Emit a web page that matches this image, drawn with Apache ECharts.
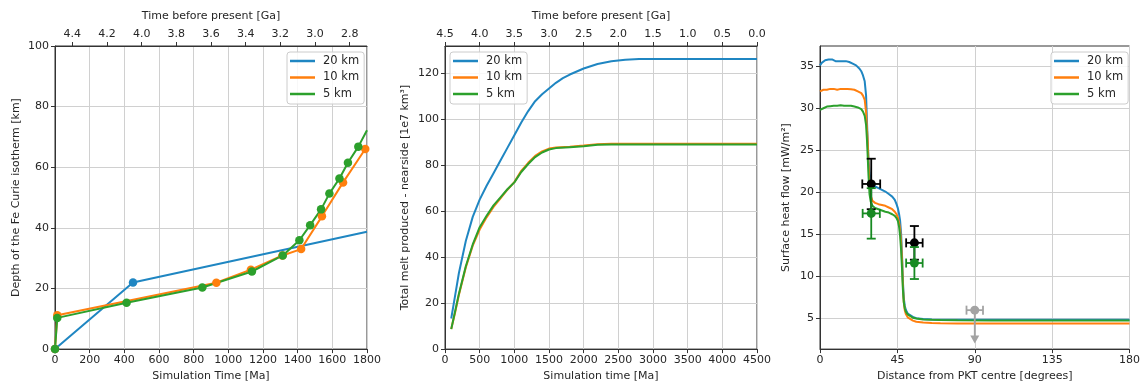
<!DOCTYPE html>
<html>
<head>
<meta charset="utf-8">
<script src="https://cdn.jsdelivr.net/npm/echarts@6/dist/echarts.min.js"></script>
<style>
html,body{margin:0;padding:0;background:#fff;}
#c{width:1143px;height:387px;}
</style>
</head>
<body>
<div id="c"></div>
<script>
// ---------- Panel 1: Fe Curie isotherm depth ----------
const curie20T = [0, 450, 1800];
const curie20D = [0, 22, 38.7];
const curie10T = [0, 13, 931, 1130, 1312, 1420, 1540, 1662, 1790];
const curie10D = [0, 11.2, 21.9, 26.2, 30.9, 33.0, 43.8, 55.0, 66.0];
const curie5T = [0, 13, 413, 850, 1136, 1314, 1410, 1472, 1535, 1583, 1641, 1690, 1750, 1800];
const curie5D = [0, 10.3, 15.3, 20.3, 25.6, 30.9, 35.9, 40.9, 46.1, 51.3, 56.3, 61.5, 66.8, 72.2];
const gaTicks1 = [4.4, 4.2, 4.0, 3.8, 3.6, 3.4, 3.2, 3.0, 2.8];

// ---------- Panel 2: total melt produced ----------
const melt20T = [90, 150, 200, 300, 400, 500, 600, 700, 800, 900, 1000, 1100, 1200, 1300, 1400, 1500, 1600, 1700, 1800, 2000, 2200, 2400, 2600, 2800, 3000, 4500];
const melt20V = [13.3, 24, 33, 47, 57.5, 65, 71, 76.5, 82, 87.5, 93, 98.5, 103.5, 107.8, 110.8, 113.3, 115.8, 117.8, 119.4, 122, 124, 125.2, 125.8, 126.1, 126.2, 126.2];
const melt10T = [90, 150, 200, 300, 400, 500, 600, 700, 800, 900, 1000, 1100, 1200, 1300, 1400, 1500, 1600, 1800, 2000, 2200, 2400, 4500];
const melt10V = [8.7, 16.5, 23.5, 35.5, 45, 52, 57.3, 61.8, 65.5, 69.3, 72.6, 77.5, 81, 84, 86, 87.2, 87.7, 88, 88.5, 89.1, 89.3, 89.3];
const melt5T = [90, 150, 200, 300, 400, 500, 600, 700, 800, 900, 1000, 1100, 1200, 1300, 1400, 1500, 1600, 1800, 2000, 2200, 2400, 4500];
const melt5V = [8.7, 17, 24, 36, 45.5, 53, 58, 62.5, 66, 69.5, 72.5, 77, 80.5, 83.5, 85.5, 86.8, 87.4, 87.8, 88.2, 88.9, 89, 89];

// ---------- Panel 3: surface heat flow ----------
const hfX = [0,1,2,3,4,5,6,7,8,9,10,11,12,13,14,15,16,17,18,19,20,21,22,23,24,25,26,26.8,27.3,27.7,28.2,28.8,29.5,30.5,32,34,36,38,40,42,43.5,44.5,45.3,46,46.6,47.2,47.8,48.2,48.7,49.3,50,51,52,54,56,60,65,70,80,100,120,140,160,180];
const hf20 = [35.1,35.4,35.6,35.7,35.6,35.8,35.7,35.8,35.7,35.6,35.7,35.6,35.5,35.6,35.5,35.6,35.5,35.5,35.4,35.3,35.2,35.1,35.0,34.7,34.4,33.9,33.2,31.5,28.5,26.3,24.0,22.3,21.4,21.0,20.7,20.5,20.3,20.1,19.8,19.5,19.1,18.6,18.1,17.4,16.6,15.0,12.0,9.5,7.5,6.5,6.0,5.6,5.4,5.2,5.05,4.95,4.9,4.87,4.85,4.85,4.85,4.85,4.85,4.85];
const hf10 = [32.0,32.1,32.2,32.3,32.2,32.25,32.3,32.2,32.3,32.25,32.2,32.3,32.3,32.25,32.3,32.35,32.3,32.3,32.25,32.2,32.2,32.1,32.0,31.9,31.8,31.5,31.0,29.5,27.5,26.3,23.5,21.0,19.6,19.0,18.75,18.6,18.5,18.4,18.2,18.0,17.7,17.4,17.0,16.4,15.6,14.0,11.5,9.0,7.0,6.0,5.5,5.15,4.95,4.75,4.62,4.52,4.47,4.44,4.42,4.41,4.41,4.41,4.41,4.41];
const hf5 = [29.8,29.9,30.0,30.1,30.2,30.2,30.25,30.3,30.3,30.3,30.3,30.3,30.35,30.3,30.3,30.35,30.3,30.3,30.3,30.25,30.2,30.2,30.1,30.0,29.9,29.6,29.1,28.0,26.3,24.5,22.0,19.8,18.9,18.4,18.15,18.0,17.85,17.7,17.6,17.4,17.2,16.95,16.6,15.9,14.8,13.0,10.5,8.5,7.0,6.2,5.8,5.5,5.3,5.1,5.0,4.9,4.85,4.82,4.8,4.78,4.77,4.77,4.77,4.77];
const obsX = [29.8, 54.9];
const obsY = [21.0, 14.0];
const obsXErr = [5.2, 4.8];
const obsYErr = [3.0, 2.0];
const modX = [29.8, 54.9];
const modY = [17.5, 11.6];
const modXErr = [5.0, 4.8];
const modYErr = [3.0, 1.9];
const limX = [90];
const limY = [6.0];
const limXErr = [4.8];
const limYErr = [3.5];
const hfTicks = [5, 10, 15, 20, 25, 30, 35];
const meltTicks = [0, 20, 40, 60, 80, 100, 120];

const seriesNames = ['20 km', '10 km', '5 km'];
const C = { b: '#1f86c2', o: '#ff7f0e', g: '#2ca02c' };

const zip = (a, b) => a.map((v, i) => [v, b[i]]);
const FONT = 'DejaVu Sans';
const TXT = '#262626';
const plain = v => String(v);

function bottomAxis(grid, min, max, interval, name) {
  return {
    type: 'value', gridIndex: grid, position: 'bottom', min: min, max: max, interval: interval,
    name: name, nameLocation: 'middle', nameGap: 21,
    nameTextStyle: { fontFamily: FONT, fontSize: 11, color: TXT },
    axisLine: { show: true, onZero: false, lineStyle: { color: '#333', width: 1 } },
    axisTick: { show: true, length: 4, lineStyle: { color: '#333' } },
    axisLabel: { fontFamily: FONT, fontSize: 11, color: TXT, margin: 6, formatter: plain },
    splitLine: { show: true, lineStyle: { color: '#d0d0d0', width: 1 } }
  };
}
function topAxis(grid, min, max, opts, name) {
  return Object.assign({
    type: 'value', gridIndex: grid, position: 'top', min: min, max: max, inverse: true,
    name: name, nameLocation: 'middle', nameGap: 24,
    nameTextStyle: { fontFamily: FONT, fontSize: 11, color: TXT },
    axisLine: { show: true, onZero: false, lineStyle: { color: '#333', width: 1 } },
    splitLine: { show: false }
  }, opts);
}
function leftAxis(grid, min, max, ticks, name, gap) {
  return {
    type: 'value', gridIndex: grid, min: min, max: max,
    name: name, nameLocation: 'middle', nameGap: gap,
    nameTextStyle: { fontFamily: FONT, fontSize: 11, color: TXT },
    axisLine: { show: true, onZero: false, lineStyle: { color: '#333', width: 1 } },
    axisTick: { show: true, length: 4, lineStyle: { color: '#333' }, customValues: ticks },
    axisLabel: { fontFamily: FONT, fontSize: 11, color: TXT, margin: 6, customValues: ticks, formatter: plain },
    splitLine: { show: true, lineStyle: { color: '#d0d0d0', width: 1 } }
  };
}
function legendAt(left, top) {
  return {
    data: seriesNames, orient: 'vertical', left: left, top: top,
    icon: 'rect', itemWidth: 25, itemHeight: 2.5, itemGap: 2.5,
    padding: [2, 5, 3, 3],
    borderColor: '#cccccc', borderWidth: 1, borderRadius: 3,
    backgroundColor: 'rgba(255,255,255,0.85)',
    textStyle: { fontFamily: FONT, fontSize: 11.5, color: TXT, lineHeight: 14, padding: [0, 0, 0, 3] },
    selectedMode: false
  };
}

function errRender(color, radius) {
  return function (params, api) {
    const x = api.value(0), y = api.value(1), xe = api.value(2), ye = api.value(3);
    const c = api.coord([x, y]);
    const l = api.coord([x - xe, y]), r = api.coord([x + xe, y]);
    const t = api.coord([x, y + ye]), b = api.coord([x, y - ye]);
    const cap = 4.5;
    const st = { stroke: color, lineWidth: 1.8 };
    const ln = (x1, y1, x2, y2) => ({ type: 'line', shape: { x1: x1, y1: y1, x2: x2, y2: y2 }, style: st });
    return {
      type: 'group',
      children: [
        ln(l[0], c[1], r[0], r[1]),
        ln(t[0], t[1], b[0], b[1]),
        ln(l[0], c[1] - cap, l[0], c[1] + cap),
        ln(r[0], c[1] - cap, r[0], c[1] + cap),
        ln(t[0] - cap, t[1], t[0] + cap, t[1]),
        ln(b[0] - cap, b[1], b[0] + cap, b[1]),
        { type: 'circle', shape: { cx: c[0], cy: c[1], r: radius }, style: { fill: color } }
      ]
    };
  };
}
function limRender(color, radius) {
  return function (params, api) {
    const x = api.value(0), y = api.value(1), xe = api.value(2), ye = api.value(3);
    const c = api.coord([x, y]);
    const l = api.coord([x - xe, y]), r = api.coord([x + xe, y]);
    const b = api.coord([x, y - ye]);
    const cap = 4.5;
    const st = { stroke: color, lineWidth: 1.8 };
    const ln = (x1, y1, x2, y2) => ({ type: 'line', shape: { x1: x1, y1: y1, x2: x2, y2: y2 }, style: st });
    return {
      type: 'group',
      children: [
        ln(l[0], c[1], r[0], r[1]),
        ln(c[0], c[1], b[0], b[1]),
        ln(l[0], c[1] - cap, l[0], c[1] + cap),
        ln(r[0], c[1] - cap, r[0], c[1] + cap),
        { type: 'polygon', shape: { points: [[b[0] - 4.5, b[1] - 4], [b[0] + 4.5, b[1] - 4], [b[0], b[1] + 4]] }, style: { fill: color } },
        { type: 'circle', shape: { cx: c[0], cy: c[1], r: radius }, style: { fill: color } }
      ]
    };
  };
}

function curieSeries(name, color, T, D, lastMarker) {
  return {
    type: 'line', name: name, xAxisIndex: 0, yAxisIndex: 0,
    data: T.map((t, i) => ({ value: [t, D[i]], symbol: (i === T.length - 1 && !lastMarker) ? 'none' : 'circle' })),
    symbolSize: 8.5, showAllSymbol: true,
    lineStyle: { color: color, width: 2 }, itemStyle: { color: color },
    emphasis: { disabled: true }, animation: false
  };
}
function plainLine(name, color, xi, yi, data) {
  return {
    type: 'line', name: name, xAxisIndex: xi, yAxisIndex: yi, data: data,
    showSymbol: false, symbol: 'none', lineStyle: { color: color, width: 2 }, itemStyle: { color: color },
    emphasis: { disabled: true }, animation: false
  };
}

const gridBase = { top: 46, height: 305, width: 312, show: true, borderColor: '#333', borderWidth: 1, containLabel: false };

const option = {
  animation: false,
  backgroundColor: '#fff',
  textStyle: { fontFamily: FONT },
  grid: [
    Object.assign({ left: 55 }, gridBase),
    Object.assign({ left: 445 }, gridBase),
    Object.assign({ left: 820 }, gridBase)
  ],
  xAxis: [
    bottomAxis(0, 0, 1800, 200, 'Simulation Time [Ma]'),
    topAxis(0, 2.7, 4.5, {
      axisTick: { show: true, length: 4, lineStyle: { color: '#333' }, customValues: gaTicks1 },
      axisLabel: { fontFamily: FONT, fontSize: 11, color: TXT, margin: 6, customValues: gaTicks1, formatter: v => v.toFixed(1) }
    }, 'Time before present [Ga]'),
    bottomAxis(1, 0, 4500, 500, 'Simulation time [Ma]'),
    topAxis(1, 0, 4.5, {
      interval: 0.5,
      axisTick: { show: true, length: 4, lineStyle: { color: '#333' } },
      axisLabel: { fontFamily: FONT, fontSize: 11, color: TXT, margin: 6, formatter: v => v.toFixed(1) }
    }, 'Time before present [Ga]'),
    bottomAxis(2, 0, 180, 45, 'Distance from PKT centre [degrees]')
  ],
  yAxis: [
    leftAxis(0, 0, 100, [0, 20, 40, 60, 80, 100], 'Depth of the Fe Curie isotherm [km]', 33),
    leftAxis(1, 0, 131.8, meltTicks, 'Total melt produced - nearside [1e7 km³]', 34),
    leftAxis(2, 1.37, 37.4, hfTicks, 'Surface heat flow [mW/m²]', 28)
  ],
  legend: [legendAt(287, 52), legendAt(450, 52), legendAt(1051, 52)],
  series: [
    curieSeries('20 km', C.b, curie20T, curie20D, false),
    curieSeries('10 km', C.o, curie10T, curie10D, true),
    curieSeries('5 km', C.g, curie5T, curie5D, false),
    plainLine('20 km', C.b, 2, 1, zip(melt20T, melt20V)),
    plainLine('10 km', C.o, 2, 1, zip(melt10T, melt10V)),
    plainLine('5 km', C.g, 2, 1, zip(melt5T, melt5V)),
    plainLine('20 km', C.b, 4, 2, zip(hfX, hf20)),
    plainLine('10 km', C.o, 4, 2, zip(hfX, hf10)),
    plainLine('5 km', C.g, 4, 2, zip(hfX, hf5)),
    { type: 'custom', xAxisIndex: 4, yAxisIndex: 2, z: 5, clip: false,
      data: obsX.map((x, i) => [x, obsY[i], obsXErr[i], obsYErr[i]]),
      renderItem: errRender('#000000', 4.5), animation: false },
    { type: 'custom', xAxisIndex: 4, yAxisIndex: 2, z: 6, clip: false,
      data: modX.map((x, i) => [x, modY[i], modXErr[i], modYErr[i]]),
      renderItem: errRender('#178a22', 4.5), animation: false },
    { type: 'custom', xAxisIndex: 4, yAxisIndex: 2, z: 6, clip: false,
      data: limX.map((x, i) => [x, limY[i], limXErr[i], limYErr[i]]),
      renderItem: limRender('#a3a3a3', 4.5), animation: false }
  ]
};

const chart = echarts.init(document.getElementById('c'), null, { renderer: 'canvas' });
chart.setOption(option);
</script>
</body>
</html>
